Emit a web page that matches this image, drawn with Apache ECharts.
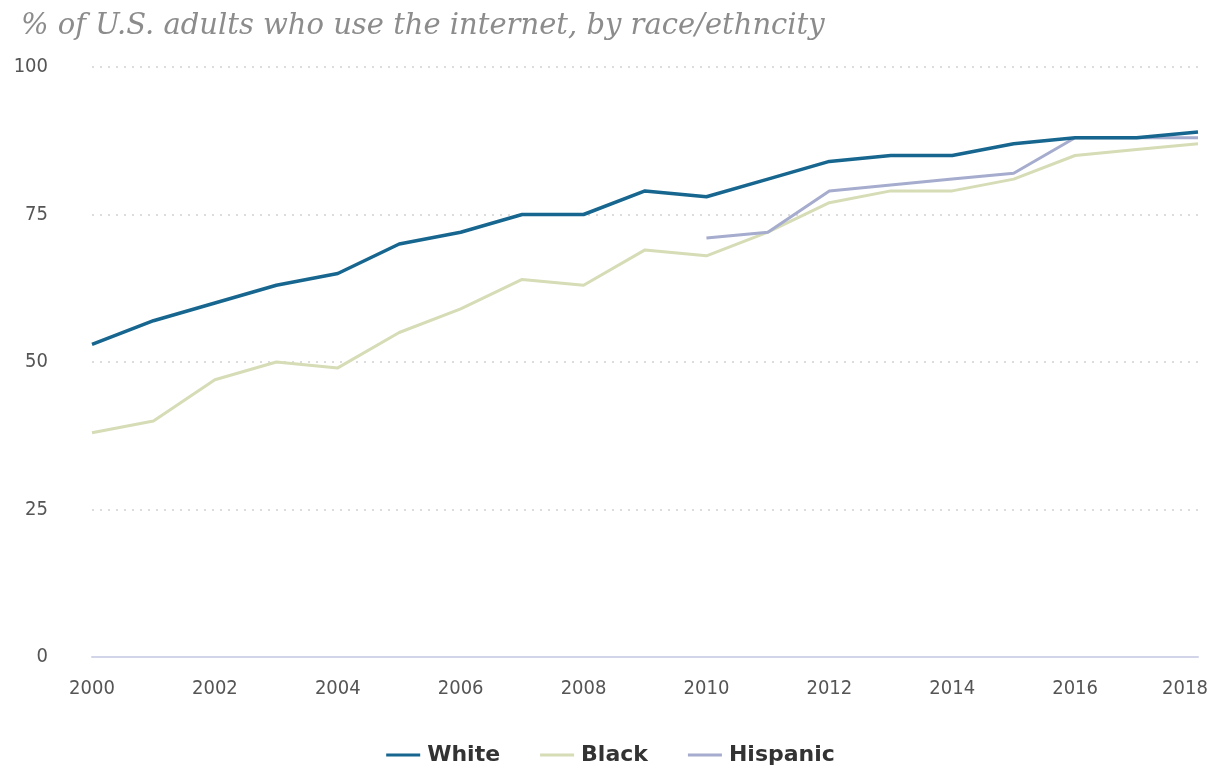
<!DOCTYPE html>
<html>
<head>
<meta charset="utf-8">
<script src="https://cdn.jsdelivr.net/npm/echarts@6/dist/echarts.min.js"></script>
<style>
html,body{margin:0;padding:0;background:#fff;}
#chart{width:1221px;height:774px;}
</style>
</head>
<body>
<div id="chart"></div>
<script>
var years = [2000,2001,2002,2003,2004,2005,2006,2007,2008,2009,2010,2011,2012,2013,2014,2015,2016,2017,2018];
var white = [53,57,60,63,65,70,72,75,75,79,78,81,84,85,85,87,88,88,89];
var black = [38,40,47,50,49,55,59,64,63,69,68,72,77,79,79,81,85,86,87];
var hispanic = [null,null,null,null,null,null,null,null,null,null,71,72,79,80,81,82,88,88,88];
var yTicks = [0,25,50,75,100];
var titleText = '% of U.S. adults who use the internet, by race/ethncity';

var axisFont = "'DejaVu Sans Condensed', 'Liberation Sans Narrow', 'Roboto Condensed', sans-serif";

function pairs(vals){
  var out = [];
  for (var i=0;i<years.length;i++){ if (vals[i] !== null) out.push([years[i], vals[i]]); }
  return out;
}

var chart = echarts.init(document.getElementById('chart'));
chart.setOption({
  animation:false,
  backgroundColor:'#ffffff',
  title:{
    text:titleText,
    left:16, top:7,
    textStyle:{fontFamily:'DejaVu Serif', fontStyle:'italic', fontWeight:'normal', fontSize:29, color:'#8c8c8c'}
  },
  legend:{
    bottom:3, left:'center',
    itemWidth:34, itemHeight:3, itemGap:40,
    icon:'rect',
    textStyle:{fontFamily:'DejaVu Sans', fontWeight:'bold', fontSize:22, color:'#333333', padding:[0,0,0,2]},
    data:['White','Black','Hispanic']
  },
  grid:{left:92, right:23, top:67, bottom:117, containLabel:false},
  xAxis:{
    type:'value', min:2000, max:2018, interval:2,
    axisLine:{show:true, lineStyle:{color:'#d2d5ea', width:2}},
    axisTick:{show:false},
    splitLine:{show:false},
    axisLabel:{
      margin:22,
      fontFamily:axisFont, fontSize:20, color:'#555555',
      formatter:function(v){ return v===2018 ? '{last|2018}' : String(v); },
      rich:{last:{fontFamily:axisFont, fontSize:20, color:'#555555', padding:[0,26,0,0]}}
    }
  },
  yAxis:{
    type:'value', min:0, max:100, interval:25,
    axisLine:{show:false}, axisTick:{show:false},
    splitLine:{show:true, lineStyle:{color:'#dcdcdc', type:[2,6], width:2}},
    axisLabel:{margin:44, fontFamily:axisFont, fontSize:20, color:'#555555', align:'right',
      formatter:function(v){ return yTicks.indexOf(v)>=0 ? String(v) : ''; }}
  },
  series:[
    {name:'White', type:'line', data:pairs(white), showSymbol:false, symbol:'none', lineStyle:{width:3.5, color:'#17668f'}, itemStyle:{color:'#17668f'}, z:3},
    {name:'Black', type:'line', data:pairs(black), showSymbol:false, symbol:'none', lineStyle:{width:3, color:'#d6dcb5'}, itemStyle:{color:'#d6dcb5'}, z:1},
    {name:'Hispanic', type:'line', data:pairs(hispanic), showSymbol:false, symbol:'none', lineStyle:{width:3, color:'#a5acce'}, itemStyle:{color:'#a5acce'}, z:2}
  ]
});
</script>
</body>
</html>
